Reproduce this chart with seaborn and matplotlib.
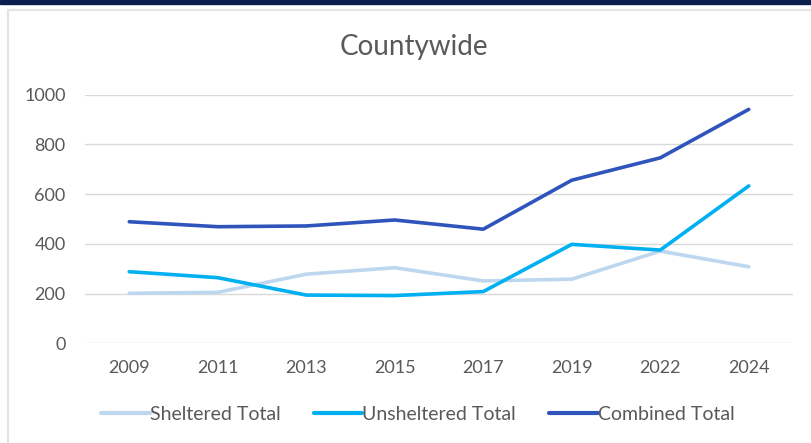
import matplotlib
matplotlib.use("Agg")
import matplotlib.pyplot as plt
import matplotlib.patches as mpatches
import numpy as np
import pandas as pd
import seaborn as sns

years = ["2009", "2011", "2013", "2015", "2017", "2019", "2022", "2024"]
sheltered = [201, 205, 278, 304, 251, 258, 371, 308]
unsheltered = [288, 264, 194, 192, 208, 398, 375, 633]
combined = [489, 469, 472, 496, 459, 656, 746, 941]

series_names = ["Sheltered Total", "Unsheltered Total", "Combined Total"]
colors = ["#bdd7ee", "#00b0f0", "#2f55bd"]

df = pd.DataFrame({
    "year": years * 3,
    "value": sheltered + unsheltered + combined,
    "series": np.repeat(series_names, len(years)),
})
df["x"] = df.groupby("series").cumcount()

sns.set_style("white")
plt.rcParams["font.family"] = ["Lato", "DejaVu Sans"]
text_color = "#595959"

fig = plt.figure(figsize=(8.12, 4.43), dpi=100)
ax = fig.add_axes([85 / 812, 1 - 343.3 / 443, (793 - 85) / 812, (343.3 - 94.7) / 443])

# frame pieces: navy band on top, light grey chart border
fig.patches.append(mpatches.Rectangle((0, 1 - 4 / 443), 1, 4 / 443, transform=fig.transFigure,
                                      color="#0b1f4e", zorder=0))
fig.patches.append(mpatches.Rectangle((8 / 812, -0.05), 1.0, 1 - 10 / 443 + 0.05, transform=fig.transFigure,
                                      facecolor="none", edgecolor="#e4e4e4", linewidth=1.6, zorder=0))

sns.lineplot(data=df, x="x", y="value", hue="series", palette=colors,
             linewidth=2.6, ax=ax, legend=False, sort=False)

ax.set_xlim(-0.5, len(years) - 0.5)
ax.set_ylim(0, 1000)
ax.set_yticks(range(0, 1001, 200))
ax.set_xticks(range(len(years)))
ax.set_xticklabels(years)
ax.grid(axis="y", color="#d9d9d9", linewidth=1.0)
ax.set_axisbelow(True)
for s in ax.spines.values():
    s.set_visible(False)
ax.tick_params(axis="both", length=0, labelsize=13, colors=text_color)
ax.tick_params(axis="y", pad=14)
ax.tick_params(axis="x", pad=12)
ax.set_xlabel("")
ax.set_ylabel("")

fig.text(414 / 812, 1 - 47 / 443, "Countywide", ha="center", va="center",
         fontsize=20, color=text_color)

handles = [plt.Line2D([], [], color=c, linewidth=3) for c in colors]
fig.legend(handles, series_names, loc="center", bbox_to_anchor=(418 / 812, 1 - 414 / 443),
           ncol=3, frameon=False, fontsize=14, handlelength=2.5, handletextpad=0.0,
           columnspacing=1.7, labelcolor=text_color)

fig.savefig("out.png", dpi=100)
